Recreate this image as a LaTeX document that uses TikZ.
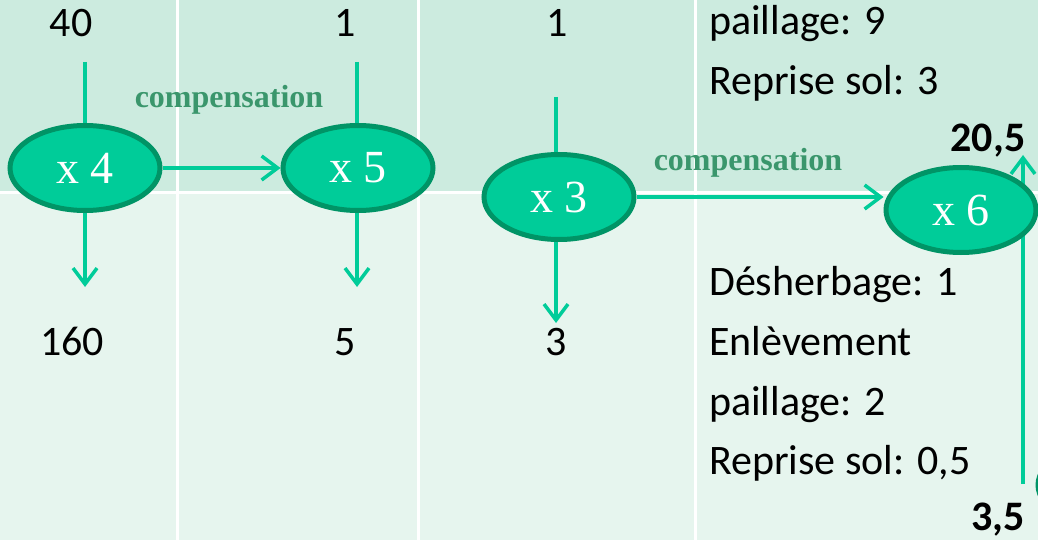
\documentclass[tikz,border=0pt]{standalone}
\usepackage{fontspec}
\setmainfont{Carlito}
\newfontfamily\serifx{Liberation Serif}
\usetikzlibrary{arrows.meta,shapes.geometric}
\definecolor{toprow}{RGB}{204,235,223}
\definecolor{botrow}{RGB}{230,245,238}
\definecolor{ellfill}{RGB}{0,204,153}
\definecolor{ellline}{RGB}{0,148,102}
\definecolor{arrowc}{RGB}{0,204,153}
\definecolor{compc}{RGB}{58,150,108}
\begin{document}
\begin{tikzpicture}[x=1pt,y=-1pt,
  num/.style={font=\fontsize{42}{50}\selectfont, anchor=base, inner sep=0pt},
  lbl/.style={font=\fontsize{42}{50}\selectfont, anchor=base west, inner sep=0pt},
  bnum/.style={font=\bfseries\fontsize{42}{50}\selectfont, anchor=base, inner sep=0pt},
  mult/.style={ellipse, draw=ellline, fill=ellfill, line width=5pt,
    minimum width=150pt, minimum height=85pt, inner sep=0pt, text=white,
    font=\serifx\fontsize{46}{50}\selectfont},
  comp/.style={font=\serifx\bfseries\fontsize{32}{38}\selectfont, text=compc,
    anchor=base, inner sep=0pt},
  flow/.style={draw=arrowc, line width=3.5pt},
  arr/.style={flow, -{Straight Barb[length=16pt,width=24pt]}}]
\useasboundingbox (0,0) rectangle (1038,540);
% table background
\fill[toprow] (0,0) rectangle (1038,193);
\fill[botrow] (0,193) rectangle (1038,540);
\draw[white, line width=3pt] (0,193) -- (1038,193);
\foreach \xx in {177,418,695} \draw[white, line width=3pt] (\xx,0) -- (\xx,540);
% partial ellipse at the right edge
\begin{scope}
\clip (0,0) rectangle (1038,540);
\draw[ellline, line width=5pt, fill=ellfill] (1113,485) ellipse [x radius=75, y radius=42];
\end{scope}
% texts
\node[num] (t40) at (71,37) {40};
\node[num] (t1a) at (345,37) {1};
\node[num] (t1b) at (557,37) {1};
\node[num] (t160) at (72,355) {160};
\node[num] (t5) at (345,355) {5};
\node[num] (t3) at (556,355) {3};
\node[lbl] (r1) at (709,35) {paillage: 9};
\node[lbl] (r2) at (709,95) {Reprise sol: 3};
\node[lbl] (r3) at (709,295) {Désherbage: 1};
\node[lbl] (r4) at (709,355) {Enlèvement};
\node[lbl] (r5) at (709,415) {paillage: 2};
\node[lbl] (r6) at (709,474) {Reprise sol: 0,5};
\node[bnum] (v205) at (988,152) {20,5};
\node[bnum] (v35) at (998,530) {3,5};
\node[comp] (c1) at (229,108) {compensation};
\node[comp] (c2) at (748,171) {compensation};
% coordinates
\coordinate (s4) at (85,62);
\coordinate (e4) at (85,287);
\coordinate (s5) at (357,62);
\coordinate (e5) at (357,287);
\coordinate (s3) at (556,97);
\coordinate (e3) at (556,323);
\coordinate (s6) at (1023,484);
\coordinate (e6) at (1023,155);
% vertical line behind x 6
\draw[arr] (s6) -- (e6);
% ellipses
\node[mult] (x4) at (85,168) {x 4};
\node[mult] (x5) at (358,168) {x 5};
\node[mult] (x3) at (559,197) {x 3};
\node[mult] (x6) at (961,210) {x 6};
% connectors
\draw[flow] (s4) -- (x4.north -| s4);
\draw[arr] (x4.south -| s4) -- (e4);
\draw[arr] (x4.east) -- (x5.west);
\draw[flow] (s5) -- (x5.north -| s5);
\draw[arr] (x5.south -| s5) -- (e5);
\draw[flow] (s3) -- (x3.north -| s3);
\draw[arr] (x3.south -| s3) -- (e3);
\draw[arr] (x3.east) -- (x3.east -| x6.west);
\end{tikzpicture}
\end{document}
